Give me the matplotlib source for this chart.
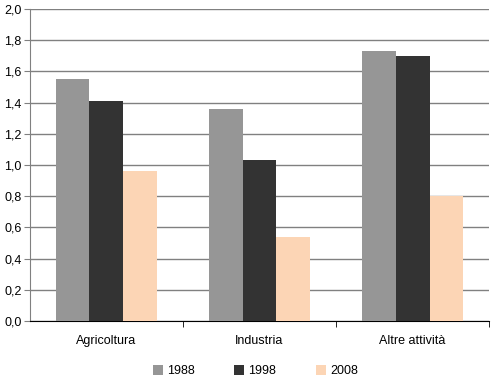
import numpy as np
import matplotlib.pyplot as plt

plt.rcParams['font.family'] = ['Liberation Sans', 'DejaVu Sans']

# Data
categories = ['Agricoltura', 'Industria', 'Altre attività']
years = ['1988', '1998', '2008']
v1988 = [1.55, 1.36, 1.73]
v1998 = [1.41, 1.03, 1.70]
v2008 = [0.96, 0.54, 0.80]
colors = ['#969696', '#333333', '#FCD5B5']
yticks = [0.0, 0.2, 0.4, 0.6, 0.8, 1.0, 1.2, 1.4, 1.6, 1.8, 2.0]

fig = plt.figure(figsize=(4.91, 3.79), dpi=100)
ax = fig.add_axes([0.061, 0.153, 0.935, 0.823])

x = np.arange(len(categories))
w = 0.222
series = [v1988, v1998, v2008]
for i, vals in enumerate(series):
    ax.bar(x + (i - 1) * w, vals, width=w, color=colors[i], label=years[i], zorder=3)

ax.set_xlim(-0.5, 2.5)
ax.set_ylim(0, 2.0)
ax.set_yticks(yticks)
ax.set_yticklabels([f'{t:.1f}'.replace('.', ',') for t in yticks])
ax.set_xticks(x)
ax.set_xticklabels(categories)
ax.set_xticks([0.5, 1.5, 2.5], minor=True)

ax.grid(axis='y', color='#808080', linewidth=1, zorder=0)
ax.tick_params(axis='y', length=4, color='#808080', labelsize=9, pad=2)
ax.tick_params(axis='x', which='major', length=0, labelsize=9, pad=10)
ax.tick_params(axis='x', which='minor', length=4, color='black')
for s in ['top', 'right']:
    ax.spines[s].set_visible(False)
ax.spines['left'].set_color('#808080')
ax.spines['bottom'].set_color('black')

fig.legend(loc='lower center', bbox_to_anchor=(0.52, -0.025), ncol=3, frameon=False,
           fontsize=9, handlelength=0.8, handleheight=0.8, handletextpad=0.3,
           columnspacing=3.2)

fig.savefig('out.png', dpi=100)
